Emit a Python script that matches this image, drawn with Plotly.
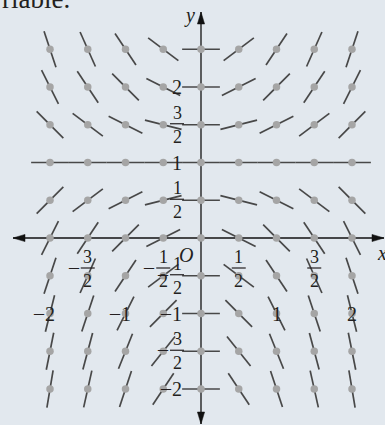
import math
import plotly.graph_objects as go

# Slope field for dy/dx = x (y - 1)
x_values = [-2.0, -1.5, -1.0, -0.5, 0.0, 0.5, 1.0, 1.5, 2.0]
y_values = [-2.0, -1.5, -1.0, -0.5, 0.0, 0.5, 1.0, 1.5, 2.0, 2.5]

# tick labels: (value, numerator, denominator) ; denominator None => integer
x_ticks = [(-2, "2", None), (-1.5, "3", "2"), (-1, "1", None), (-0.5, "1", "2"),
           (0.5, "1", "2"), (1, "1", None), (1.5, "3", "2"), (2, "2", None)]
y_ticks = [(2, "2", None), (1.5, "3", "2"), (1, "1", None), (0.5, "1", "2"),
           (-0.5, "1", "2"), (-1, "1", None), (-1.5, "3", "2"), (-2, "2", None)]


def slope(x, y):
    return x * (y - 1)


W, H = 385, 425
PX = 75.5                 # pixels per unit
OX, OY = 201, 238         # pixel position of the origin
xr = [-OX / PX, (W - OX) / PX]
yr = [-(H - OY) / PX, OY / PX]

SEG = 0.25                # half length of each slope segment
seg_x, seg_y, dot_x, dot_y = [], [], [], []
for yv in y_values:
    for xv in x_values:
        m = slope(xv, yv)
        d = SEG / math.sqrt(1 + m * m)
        seg_x += [xv - d, xv + d, None]
        seg_y += [yv - m * d, yv + m * d, None]
        dot_x.append(xv)
        dot_y.append(yv)

fig = go.Figure()
fig.add_trace(go.Scatter(x=seg_x, y=seg_y, mode="lines",
                         line=dict(color="#484848", width=1.7),
                         hoverinfo="skip", showlegend=False))
fig.add_trace(go.Scatter(x=dot_x, y=dot_y, mode="markers",
                         marker=dict(color="#a5a5a5", size=7.5),
                         hoverinfo="skip", showlegend=False))

AX = "#111111"
TXT = "#231f20"
SERIF = "Liberation Serif"

# axes with arrowheads at both ends
x_lo, x_hi = (13 - OX) / PX, (384 - OX) / PX
y_hi, y_lo = (OY - 12) / PX, (OY - 424) / PX
fig.add_shape(type="line", x0=x_lo, x1=x_hi, y0=0, y1=0,
              line=dict(color=AX, width=1.3), layer="below")
fig.add_shape(type="line", x0=0, x1=0, y0=y_lo, y1=y_hi,
              line=dict(color=AX, width=1.3), layer="below")
AL, AW = 12, 3.6


def arrow(xa, ya, path):
    fig.add_shape(type="path", xref="x", yref="y", xsizemode="pixel", ysizemode="pixel",
                  xanchor=xa, yanchor=ya, path=path,
                  fillcolor=AX, line=dict(color=AX, width=0.5))


arrow(x_hi, 0, f"M 0 0 L {-AL} {AW} L {-AL} {-AW} Z")
arrow(x_lo, 0, f"M 0 0 L {AL} {AW} L {AL} {-AW} Z")
arrow(0, y_hi, f"M 0 0 L {AW} {-AL} L {-AW} {-AL} Z")
arrow(0, y_lo, f"M 0 0 L {AW} {AL} L {-AW} {AL} Z")


def text(x, y, s, dx=0, dy=0, size=20, italic=False, xanchor="center"):
    fig.add_annotation(x=x, y=y, text=f"<i>{s}</i>" if italic else s,
                       showarrow=False, xshift=dx, yshift=dy, xanchor=xanchor,
                       yanchor="middle",
                       font=dict(family=SERIF, size=size, color=TXT))


def bar(x, y, dx0, dx1, dy):
    fig.add_shape(type="line", xref="x", yref="y", xsizemode="pixel", ysizemode="pixel",
                  xanchor=x, yanchor=y, x0=dx0, x1=dx1, y0=dy, y1=dy,
                  line=dict(color=TXT, width=1.2))


def label(x, y, num, den, neg, dx, dy_int, dy_bar):
    if den is None:
        text(x, y, num, dx=dx, dy=dy_int)
        if neg:
            text(x, y, "–", dx=dx - 11, dy=dy_int + 1)
    else:
        text(x, y, num, dx=dx, dy=dy_bar + 11, size=18)
        text(x, y, den, dx=dx, dy=dy_bar - 13, size=18)
        bar(x, y, dx - 7, dx + 7, dy_bar)
        if neg:
            text(x, y, "–", dx=dx - 14, dy=dy_bar + 1)


for v, num, den in x_ticks:
    label(v, 0, num, den, v < 0, 0, -(314 - OY), -(268 - OY))
for v, num, den in y_ticks:
    label(0, v, num, den, v < 0, -(OX - 177), 0, 1)

text(0, 0, "O", dx=-(OX - 186), dy=-(255 - OY), italic=True)
text(0, y_hi, "y", dx=-(OX - 189), dy=-3, italic=True)
text(x_hi, 0, "x", dx=-2, dy=-15, italic=True)

# running text of the page above the figure
fig.add_annotation(xref="paper", yref="paper", x=0, y=1, xanchor="left", yanchor="bottom",
                   yshift=-16, text="riable.", showarrow=False,
                   font=dict(family=SERIF, size=27, color=TXT))

fig.update_layout(
    width=W, height=H, margin=dict(l=0, r=0, t=0, b=0),
    paper_bgcolor="#e2e8ee", plot_bgcolor="#e2e8ee",
    xaxis=dict(range=xr, visible=False, fixedrange=True),
    yaxis=dict(range=yr, visible=False, fixedrange=True),
)

fig.write_html("out.html")
